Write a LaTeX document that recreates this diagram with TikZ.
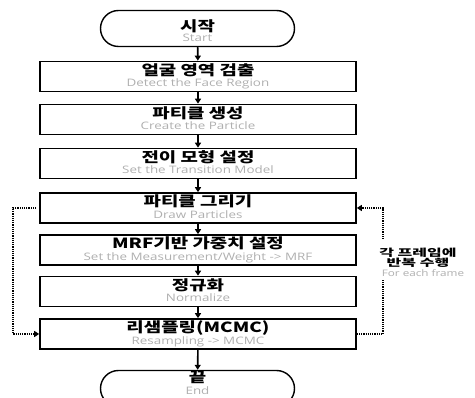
\documentclass[tikz,border=0pt]{standalone}
\usepackage{fontspec}
\newfontfamily\krfont[FakeStretch=1.35]{Noto Sans CJK KR}
\newfontfamily\krsfont[FakeStretch=1.6]{Noto Sans CJK KR}
\newfontfamily\enfont[FakeStretch=1.3]{Open Sans}
\usetikzlibrary{arrows.meta}
\definecolor{subgray}{RGB}{175,175,175}
\begin{document}
\begin{tikzpicture}[x=1pt,y=-1pt,
  box/.style={draw,line width=1.6pt,minimum width=316pt,minimum height=30pt,inner sep=0pt},
  term/.style={draw,line width=1.4pt,rounded corners=18pt,minimum width=194pt,minimum height=36pt,inner sep=0pt},
  kr/.style={font=\krfont\bfseries\fontsize{14}{16}\selectfont,anchor=base,inner sep=0pt},
  en/.style={font=\enfont\fontsize{10.3}{11}\selectfont,text=subgray,anchor=base,inner sep=0pt},
  krs/.style={font=\krsfont\bfseries\fontsize{10}{12}\selectfont,anchor=base,inner sep=0pt},
  ens/.style={font=\enfont\fontsize{9}{10}\selectfont,text=subgray,anchor=base,inner sep=0pt},
  flow/.style={line width=1.6pt,-{Triangle[length=5pt,width=6pt]}},
  loopline/.style={line width=1.6pt,dash pattern=on 1.2pt off 1pt,-{Triangle[length=5pt,width=6pt]}}
]
\useasboundingbox (0,0) rectangle (475,398);
\clip (0,0) rectangle (475,398);

% terminals and boxes
\node[term] (start) at (197.5,28.5) {};
\node[box] (b1) at (198,76.5) {};
\node[box] (b2) at (198,119.5) {};
\node[box] (b3) at (198,163.5) {};
\node[box] (b4) at (198,208) {};
\node[box] (b5) at (198,250) {};
\node[box] (b6) at (198,291.5) {};
\node[box] (b7) at (198,334) {};
\node[term] (end) at (197.5,388.5) {};

% texts
\node[kr] (t0) at (197.5,31.5) {시작};
\node[en] (e0) at (197.5,42) {Start};
\node[kr] (t1) at (198,75.5) {얼굴 영역 검출};
\node[en] (e1) at (198,87) {Detect the Face Region};
\node[kr] (t2) at (198,118.5) {파티클 생성};
\node[en] (e2) at (198,130) {Create the Particle};
\node[kr] (t3) at (198,162.5) {전이 모형 설정};
\node[en] (e3) at (198,174) {Set the Transition Model};
\node[kr] (t4) at (198,207) {파티클 그리기};
\node[en] (e4) at (198,218.5) {Draw Particles};
\node[kr] (t5) at (198,249) {MRF기반 가중치 설정};
\node[en] (e5) at (198,260.5) {Set the Measurement/Weight -> MRF};
\node[kr] (t6) at (198,290.5) {정규화};
\node[en] (e6) at (198,302) {Normalize};
\node[kr] (t7) at (198,333) {리샘플링(MCMC)};
\node[en] (e7) at (198,344.5) {Resampling -> MCMC};
\node[kr] (t8) at (197.5,383) {끝};
\node[en] (e8) at (197.5,395) {End};

% main flow
\draw[flow] (start) -- (b1);
\draw[flow] (b1) -- (b2);
\draw[flow] (b2) -- (b3);
\draw[flow] (b3) -- (b4);
\draw[flow] (b4) -- (b5);
\draw[flow] (b5) -- (b6);
\draw[flow] (b6) -- (b7);
\draw[flow] (b7) -- (end);

% loops
\coordinate (L1) at (13,208);
\coordinate (L2) at (13,334);
\coordinate (R1) at (383,208);
\coordinate (R2) at (383,334);
\draw[loopline] ([xshift=-3pt]b4.west) -- (L1) -- (L2) -- (b7.west);
\draw[loopline] (b7.east) -- (R2) -- (R1) -- (b4.east);

% loop label
\fill[white] (370,239) rectangle (475,280);
\node[krs] (l1) at (418,256.5) {각 프레임에};
\node[krs] (l2) at (418,267) {반복 수행};
\node[ens] (l3) at (423,277) {For each frame};
\end{tikzpicture}
\end{document}
